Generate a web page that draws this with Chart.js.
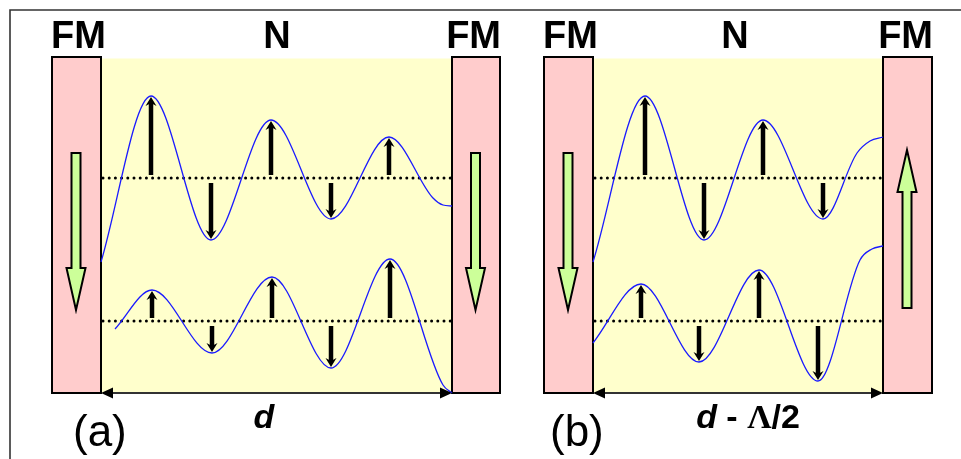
<!DOCTYPE html>
<html>
<head>
<meta charset="utf-8">
<script src="https://cdn.jsdelivr.net/npm/chart.js@4.4.1/dist/chart.umd.min.js"></script>
<style>
    body { margin: 0; background: #fff; }
    canvas { display: block; }
</style>
</head>
<body>
<canvas id="diagram" width="961" height="459"></canvas>
<script>
// Textos de la figura
const layerLabels = ['FM', 'N', 'FM'];
const panelLabels = ['(a)', '(b)'];
const thicknessLabels = ['d', 'd - Λ/2'];

// Magnetización de cada capa FM (izquierda, derecha) por panel
const fmDirections = [['down', 'down'], ['down', 'up']];

// Ondas de espín: posición y amplitud (positiva hacia arriba)
const waveATopX = [101, 151, 211, 271, 331, 389, 433, 443, 452];
const waveATopAmp = [-84, 82, -62, 58, -41, 41, -20, -27, -28];
const waveABottomX = [115, 152, 212, 272, 331, 390, 443, 452];
const waveABottomAmp = [-8, 31, -32, 44, -47, 62, -64, -72];
const waveBTopX = [593, 645, 704, 763, 823, 857, 870, 883];
const waveBTopAmp = [-84, 82, -62, 58, -41, 25, 37, 41];
const waveBBottomX = [593, 641, 699, 759, 818, 860, 872, 883];
const waveBBottomAmp = [-22, 37, -41, 51, -60, 61, 72, 75];

// Geometría del dibujo (en unidades de los ejes)
const panels = [
    { fmLeft: [52, 101], fmRight: [452, 500], nCenter: 277, labelX: 73, dCenter: 264 },
    { fmLeft: [544, 593], fmRight: [883, 932], nCenter: 735, labelX: 550, dCenter: 748 }
];
const baselines = [178, 321];
const layerTop = 57;
const layerBottom = 393;

const waves = [
    { x: waveATopX, amp: waveATopAmp, base: baselines[0], panel: 0 },
    { x: waveABottomX, amp: waveABottomAmp, base: baselines[1], panel: 0 },
    { x: waveBTopX, amp: waveBTopAmp, base: baselines[0], panel: 1 },
    { x: waveBBottomX, amp: waveBBottomAmp, base: baselines[1], panel: 1 }
];

const datasets = [];
waves.forEach(w => {
    datasets.push({
        data: w.x.map((x, i) => ({ x: x, y: w.base - w.amp[i] })),
        showLine: true,
        borderColor: '#1a1aff',
        borderWidth: 1.3,
        pointRadius: 0,
        cubicInterpolationMode: 'monotone',
        order: 0
    });
});
panels.forEach(p => {
    baselines.forEach(b => {
        datasets.push({
            data: [{ x: p.fmLeft[1] + 2, y: b }, { x: p.fmRight[0] - 1, y: b }],
            showLine: true,
            borderColor: '#000',
            borderWidth: 3,
            borderDash: [0, 6.2],
            borderCapStyle: 'round',
            pointRadius: 0,
            order: 1
        });
    });
});

function greenArrow(ctx, cx, dir, Y) {
    const hw = 4.5, hh = 9.5;
    let pts;
    if (dir === 'down') {
        pts = [[cx - hw, 153], [cx + hw, 153], [cx + hw, 268], [cx + hh, 268], [cx, 310], [cx - hh, 268], [cx - hw, 268]];
    } else {
        pts = [[cx - hw, 308], [cx + hw, 308], [cx + hw, 192], [cx + hh, 192], [cx, 150], [cx - hh, 192], [cx - hw, 192]];
    }
    ctx.beginPath();
    pts.forEach((p, i) => i ? ctx.lineTo(p[0], Y(p[1])) : ctx.moveTo(p[0], Y(p[1])));
    ctx.closePath();
    ctx.fillStyle = '#CCFF99';
    ctx.fill();
    ctx.strokeStyle = '#000';
    ctx.lineWidth = 2;
    ctx.stroke();
}

function spinArrow(ctx, x, y0, y1) {
    const dir = y1 < y0 ? 1 : -1; // 1 = hacia arriba
    ctx.strokeStyle = '#000';
    ctx.lineWidth = 4.5;
    ctx.beginPath();
    ctx.moveTo(x, y0);
    ctx.lineTo(x, y1 + dir * 5);
    ctx.stroke();
    ctx.fillStyle = '#000';
    ctx.beginPath();
    ctx.moveTo(x, y1);
    ctx.lineTo(x - 5.5, y1 + dir * 9);
    ctx.lineTo(x, y1 + dir * 6);
    ctx.lineTo(x + 5.5, y1 + dir * 9);
    ctx.closePath();
    ctx.fill();
}

const diagramPlugin = {
    id: 'diagram',
    beforeDatasetsDraw(chart) {
        const ctx = chart.ctx;
        const X = v => chart.scales.x.getPixelForValue(v);
        const Y = v => chart.scales.y.getPixelForValue(v);
        ctx.save();
        // marco exterior
        ctx.strokeStyle = '#333';
        ctx.lineWidth = 1.6;
        ctx.beginPath();
        ctx.moveTo(X(10), Y(459));
        ctx.lineTo(X(10), Y(10));
        ctx.lineTo(X(961), Y(10));
        ctx.stroke();

        panels.forEach((p, i) => {
            // capa normal
            ctx.fillStyle = '#FFFFCC';
            ctx.fillRect(X(p.fmLeft[1]), Y(layerTop + 1.5), X(p.fmRight[0]) - X(p.fmLeft[1]), Y(layerBottom) - Y(layerTop + 1.5));
            // capas FM
            [p.fmLeft, p.fmRight].forEach((b, j) => {
                ctx.fillStyle = '#FFCCCC';
                ctx.fillRect(X(b[0]), Y(layerTop), X(b[1]) - X(b[0]), Y(layerBottom) - Y(layerTop));
                ctx.strokeStyle = '#000';
                ctx.lineWidth = 2;
                ctx.strokeRect(X(b[0]), Y(layerTop), X(b[1]) - X(b[0]), Y(layerBottom) - Y(layerTop));
                greenArrow(ctx, X((b[0] + b[1]) / 2) - 0.5, fmDirections[i][j], Y);
            });
        });
        ctx.restore();
    },
    afterDatasetsDraw(chart) {
        const ctx = chart.ctx;
        const X = v => chart.scales.x.getPixelForValue(v);
        const Y = v => chart.scales.y.getPixelForValue(v);
        ctx.save();

        // flechas de espín en los extremos interiores de cada onda
        waves.forEach(w => {
            for (let i = 1; i < w.x.length - 1; i++) {
                const a = w.amp[i];
                const isMax = a > w.amp[i - 1] && a > w.amp[i + 1];
                const isMin = a < w.amp[i - 1] && a < w.amp[i + 1];
                if (!isMax && !isMin) continue;
                const tip = w.base - a;
                if (isMax) spinArrow(ctx, X(w.x[i]), Y(w.base - 3), Y(tip + 1));
                else spinArrow(ctx, X(w.x[i]), Y(w.base + 5), Y(tip - 1));
            }
        });

        panels.forEach((p, i) => {
            // cota del espesor
            const x0 = X(p.fmLeft[1]), x1 = X(p.fmRight[0]), y = Y(layerBottom);
            ctx.strokeStyle = '#333';
            ctx.fillStyle = '#000';
            ctx.lineWidth = 2;
            ctx.beginPath();
            ctx.moveTo(x0 + 6, y);
            ctx.lineTo(x1 - 6, y);
            ctx.stroke();
            ctx.beginPath();
            ctx.moveTo(x0, y); ctx.lineTo(x0 + 12, y - 5.5); ctx.lineTo(x0 + 12, y + 5.5); ctx.closePath();
            ctx.moveTo(x1, y); ctx.lineTo(x1 - 12, y - 5.5); ctx.lineTo(x1 - 12, y + 5.5); ctx.closePath();
            ctx.fill();

            // etiquetas de capa
            ctx.fillStyle = '#000';
            ctx.textBaseline = 'alphabetic';
            ctx.font = 'bold 38px "Liberation Sans", Arial, sans-serif';
            ctx.textAlign = 'left';
            ctx.fillText(layerLabels[0], X(p.fmLeft[0]) - 1, Y(48));
            ctx.textAlign = 'center';
            ctx.fillText(layerLabels[1], X(p.nCenter), Y(48));
            ctx.textAlign = 'right';
            ctx.fillText(layerLabels[2], X(p.fmRight[1]) + 1, Y(48));

            // (a), (b)
            ctx.textAlign = 'left';
            ctx.font = '44px "Liberation Sans", Arial, sans-serif';
            ctx.fillText(panelLabels[i], X(p.labelX), Y(446));

            // d, d - Λ/2
            const label = thicknessLabels[i];
            const parts = [{ t: label.charAt(0), f: 'italic bold 34px "Liberation Sans", Arial, sans-serif' }];
            if (label.length > 1) {
                const rest = label.slice(1);
                const k = rest.indexOf('Λ');
                parts.push({ t: rest.slice(0, k), f: 'bold 34px "Liberation Sans", Arial, sans-serif' });
                parts.push({ t: 'Λ', f: 'bold 34px "Liberation Serif", "Times New Roman", serif' });
                parts.push({ t: rest.slice(k + 1), f: 'bold 34px "Liberation Sans", Arial, sans-serif' });
            }
            let total = 0;
            parts.forEach(pt => { ctx.font = pt.f; pt.w = ctx.measureText(pt.t).width; total += pt.w; });
            let cx = X(p.dCenter) - total / 2;
            parts.forEach(pt => { ctx.font = pt.f; ctx.fillText(pt.t, cx, Y(428)); cx += pt.w; });
        });
        ctx.restore();
    }
};

new Chart(document.getElementById('diagram'), {
    type: 'scatter',
    data: { datasets: datasets },
    options: {
        responsive: false,
        animation: false,
        devicePixelRatio: 1,
        layout: { padding: 0 },
        plugins: { legend: { display: false }, tooltip: { enabled: false } },
        scales: {
            x: { type: 'linear', display: false, min: 0, max: 961 },
            y: { type: 'linear', display: false, min: 0, max: 459, reverse: true }
        }
    },
    plugins: [diagramPlugin]
});
</script>
</body>
</html>
